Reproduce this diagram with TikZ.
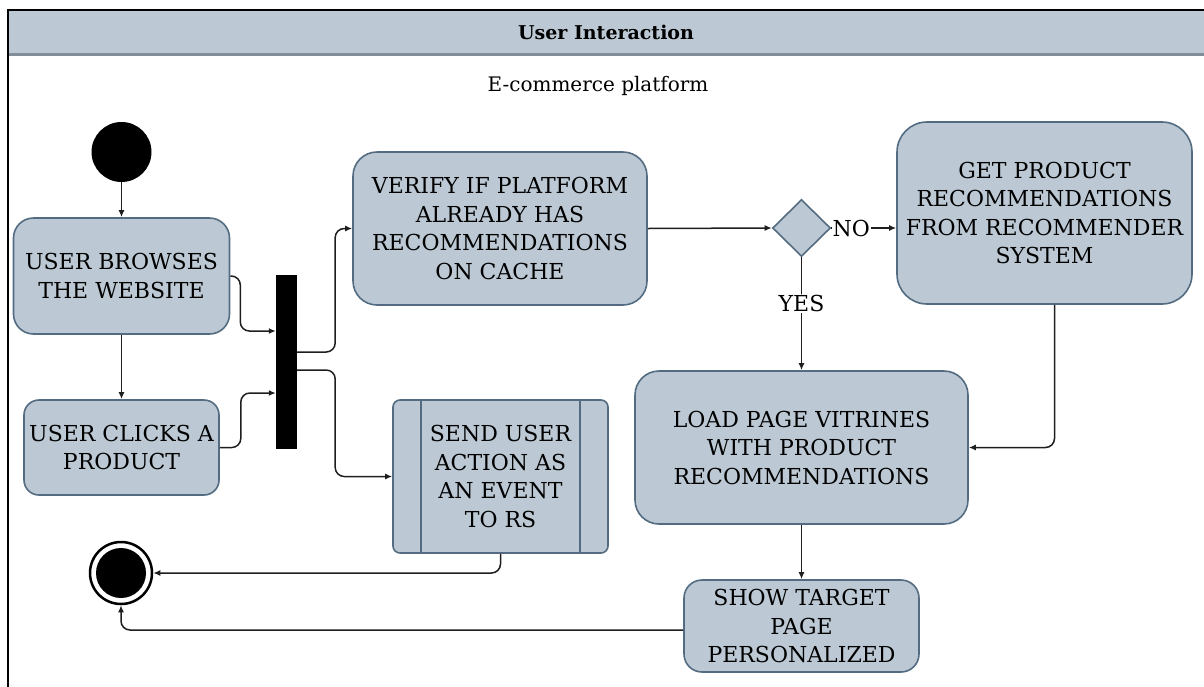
\documentclass[tikz,border=0pt]{standalone}
\usepackage{fontspec}
\setmainfont{DejaVu Serif}
\usetikzlibrary{arrows.meta,shapes.geometric,calc}
\definecolor{boxfill}{RGB}{188,201,212}
\definecolor{boxline}{RGB}{84,108,130}
\definecolor{bandline}{RGB}{128,142,154}
\definecolor{flowcol}{RGB}{30,30,30}
\begin{document}
\begin{tikzpicture}[x=1pt,y=-1pt,
  txt/.style={font=\fontsize{22}{28.5}\selectfont},
  action/.style={txt, draw=boxline, fill=boxfill, line width=1.6pt,
    rounded corners=20pt, align=center, inner sep=0pt},
  flow/.style={draw=flowcol, line width=1.5pt,
    -{Latex[length=7pt,width=6pt]}, rounded corners=9pt},
  guard/.style={txt, fill=white, inner sep=1pt}]
\useasboundingbox (0,0) rectangle (1204,686);

% swimlane frame and header band
\fill[boxfill] (8,10) rectangle (1210,53);
\draw[bandline, line width=3pt] (8,54) -- (1210,54);
\draw[black, line width=2pt] (1210,10) -- (8,10) -- (8,690);
\node[font=\bfseries\fontsize{19}{24}\selectfont] (lane) at (606,32) {User Interaction};
\node[font=\fontsize{20}{24}\selectfont] (system) at (598,86) {E-commerce platform};

% initial and final states
\node[circle, fill=black, minimum size=60pt, inner sep=0pt] (start) at (121.5,152) {};
\node[circle, draw=black, fill=white, line width=2.5pt, minimum size=62pt, inner sep=0pt] (stop) at (121,573) {};
\fill[black] (stop.center) circle (25);

% actions
\node[action, minimum width=216pt, minimum height=116pt] (browse) at (121.5,276) {USER BROWSES\\THE WEBSITE};
\node[action, rounded corners=15pt, minimum width=195pt, minimum height=95pt] (click) at (121.5,447.5) {USER CLICKS A\\PRODUCT};
\node[fill=black, minimum width=21pt, minimum height=174pt, inner sep=0pt] (fork) at (286.5,362) {};
\node[action, rounded corners=24pt, minimum width=294pt, minimum height=153pt] (verify) at (500,228.5) {VERIFY IF PLATFORM\\ALREADY HAS\\RECOMMENDATIONS\\ON CACHE};
\node[action, rounded corners=7pt, minimum width=215pt, minimum height=153pt] (send) at (500.5,476.5) {SEND USER\\ACTION AS\\AN EVENT\\TO RS};
\draw[boxline, line width=1.6pt] ([xshift=29pt]send.north west) -- ([xshift=29pt]send.south west);
\draw[boxline, line width=1.6pt] ([xshift=-29pt]send.north east) -- ([xshift=-29pt]send.south east);
\node[diamond, draw=boxline, fill=boxfill, line width=1.6pt, minimum width=58pt, minimum height=57pt, inner sep=0pt] (cached) at (801.5,228) {};
\node[action, rounded corners=30pt, minimum width=295pt, minimum height=182pt] (fetch) at (1044.5,213) {GET PRODUCT\\RECOMMENDATIONS\\FROM RECOMMENDER\\SYSTEM};
\node[action, rounded corners=24pt, minimum width=333pt, minimum height=153pt] (load) at (801.5,447.5) {LOAD PAGE VITRINES\\WITH PRODUCT\\RECOMMENDATIONS};
\node[action, rounded corners=18pt, minimum width=235pt, minimum height=92pt] (show) at (801.5,626) {SHOW TARGET\\PAGE\\PERSONALIZED};

% control flow
\draw[flow] (start) -- (browse);
\draw[flow] (browse) -- (click);
\draw[flow] (browse.east) -- ++(10,0) |- ([yshift=31pt]fork.west);
\draw[flow] (click.east) -- ++(21,0) |- ([yshift=-31pt]fork.west);
\draw[flow] ([yshift=10pt]fork.east) -- ++(38,0) |- (verify.west);
\draw[flow] ([yshift=-8pt]fork.east) -- ++(38,0) |- (send.west);
\draw[flow] (verify.east) -- (cached.west);
\draw[flow] (cached.east) -- (cached.east -| fetch.west);
\node[guard, anchor=west] (no) at (cached.east) {NO};
\draw[flow] (cached.south) -- node[guard, pos=0.41] (yes) {YES} (load.north);
\draw[flow] ([xshift=10pt]fetch.south) |- (load.east);
\draw[flow] (load) -- (show);
\draw[flow] (send.south) |- (stop.east);
\draw[flow] ([yshift=-4pt]show.west) -| (stop.south);
\end{tikzpicture}
\end{document}
